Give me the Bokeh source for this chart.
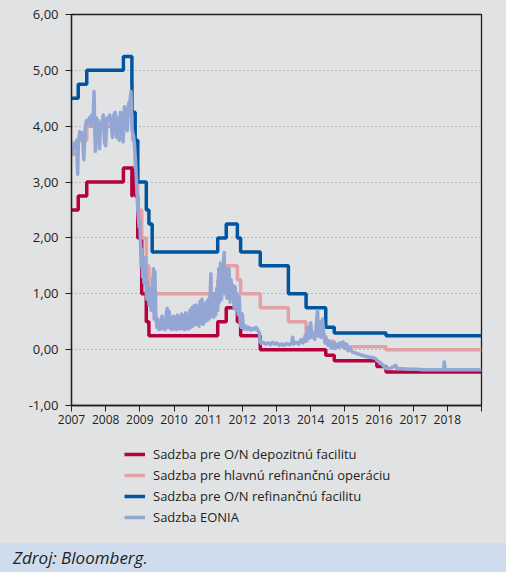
import pandas as pd
from bokeh.plotting import figure
from bokeh.models import (FixedTicker, CustomJSTickFormatter, Legend, LegendItem,
                          Range1d, Div)
from bokeh.layouts import column
from bokeh.embed import file_html
from bokeh.resources import INLINE

# ---------------- data ----------------
# ECB key rates: change dates and new levels (%)
deposit_dates = ["2007-01-01", "2007-03-14", "2007-06-13", "2008-07-09", "2008-10-08",
                 "2008-10-09", "2008-11-12", "2008-12-10", "2009-01-21", "2009-03-11",
                 "2009-04-08", "2011-04-13", "2011-07-13", "2011-11-09", "2011-12-14",
                 "2012-07-11", "2014-06-11", "2014-09-10", "2015-12-09", "2016-03-16",
                 "2019-01-01"]
deposit_vals = [2.50, 2.75, 3.00, 3.25, 2.75, 3.25, 2.75, 2.00, 1.00, 0.50,
                0.25, 0.50, 0.75, 0.50, 0.25, 0.00, -0.10, -0.20, -0.30, -0.40,
                -0.40]

mro_dates = ["2007-01-01", "2007-03-14", "2007-06-13", "2008-07-09", "2008-10-15",
             "2008-11-12", "2008-12-10", "2009-01-21", "2009-03-11", "2009-04-08",
             "2009-05-13", "2011-04-13", "2011-07-13", "2011-11-09", "2011-12-14",
             "2012-07-11", "2013-05-08", "2013-11-13", "2014-06-11", "2014-09-10",
             "2016-03-16", "2019-01-01"]
mro_vals = [3.50, 3.75, 4.00, 4.25, 3.75, 3.25, 2.50, 2.00, 1.50, 1.25,
            1.00, 1.25, 1.50, 1.25, 1.00, 0.75, 0.50, 0.25, 0.15, 0.05,
            0.00, 0.00]

mlf_dates = ["2007-01-01", "2007-03-14", "2007-06-13", "2008-07-09", "2008-10-08",
             "2008-10-09", "2008-11-12", "2008-12-10", "2009-03-11", "2009-04-08",
             "2009-05-13", "2011-04-13", "2011-07-13", "2011-11-09", "2011-12-14",
             "2012-07-11", "2013-05-08", "2013-11-13", "2014-06-11", "2014-09-10",
             "2016-03-16", "2019-01-01"]
mlf_vals = [4.50, 4.75, 5.00, 5.25, 4.75, 4.25, 3.75, 3.00, 2.50, 2.25,
            1.75, 2.00, 2.25, 2.00, 1.75, 1.50, 1.00, 0.75, 0.40, 0.30,
            0.25, 0.25]

# EONIA, time in fractional years
eonia_t = [2007.00, 2007.03, 2007.07, 2007.11, 2007.15, 2007.18, 2007.20, 2007.24, 2007.28,
           2007.32, 2007.36, 2007.40, 2007.44, 2007.48, 2007.52, 2007.56, 2007.59, 2007.63,
           2007.66, 2007.68, 2007.70, 2007.73, 2007.76, 2007.79, 2007.82, 2007.85, 2007.89,
           2007.93, 2007.97, 2008.00, 2008.04, 2008.08, 2008.12, 2008.16, 2008.20, 2008.24,
           2008.28, 2008.32, 2008.36, 2008.40, 2008.43, 2008.47, 2008.51, 2008.55, 2008.59,
           2008.63, 2008.67, 2008.71, 2008.74, 2008.77, 2008.81, 2008.84, 2008.88, 2008.91,
           2008.94, 2008.98,
           2009.00, 2009.02, 2009.04, 2009.06, 2009.08, 2009.10, 2009.12, 2009.14, 2009.17,
           2009.19, 2009.21, 2009.24, 2009.27, 2009.30, 2009.33, 2009.36, 2009.40, 2009.42,
           2009.44, 2009.47,
           2009.50, 2009.53, 2009.56, 2009.59, 2009.62, 2009.65, 2009.68, 2009.71, 2009.74,
           2009.77, 2009.80, 2009.83, 2009.86, 2009.89, 2009.92, 2009.95, 2009.98, 2010.01,
           2010.04, 2010.07, 2010.10, 2010.13, 2010.16, 2010.19, 2010.22, 2010.25, 2010.28,
           2010.31, 2010.34, 2010.37, 2010.40, 2010.43, 2010.46, 2010.49, 2010.52, 2010.55,
           2010.58, 2010.61, 2010.64, 2010.67, 2010.70, 2010.73, 2010.76, 2010.79, 2010.82,
           2010.85, 2010.88, 2010.91, 2010.94, 2010.97, 2011.00, 2011.03, 2011.06, 2011.08,
           2011.10, 2011.13, 2011.16, 2011.19, 2011.22, 2011.25, 2011.28, 2011.31, 2011.33,
           2011.36, 2011.39, 2011.42, 2011.45, 2011.47, 2011.49, 2011.52, 2011.55, 2011.58,
           2011.61, 2011.64, 2011.67, 2011.70, 2011.73, 2011.76, 2011.79, 2011.82, 2011.85,
           2011.88, 2011.91, 2011.94, 2011.97, 2012.00, 2012.03, 2012.06, 2012.10, 2012.15,
           2012.20, 2012.25, 2012.30, 2012.35, 2012.40, 2012.45, 2012.50, 2012.52, 2012.56,
           2012.62, 2012.68, 2012.75, 2012.82, 2012.88, 2012.95, 2013.00, 2013.08, 2013.15,
           2013.22, 2013.30, 2013.38, 2013.45, 2013.47, 2013.50, 2013.58, 2013.65, 2013.72,
           2013.78, 2013.84, 2013.88, 2013.92, 2013.95, 2014.00, 2014.04, 2014.08, 2014.12,
           2014.16, 2014.20, 2014.23, 2014.27, 2014.30, 2014.35, 2014.38, 2014.42, 2014.46,
           2014.50, 2014.55, 2014.60, 2014.65, 2014.70, 2014.75, 2014.80, 2014.85, 2014.90,
           2014.95, 2015.00, 2015.05, 2015.10, 2015.15, 2015.22, 2015.30, 2015.40, 2015.50,
           2015.60, 2015.70, 2015.80, 2015.90, 2015.95, 2016.05, 2016.15, 2016.22, 2016.35,
           2016.49, 2016.52, 2016.70, 2016.90, 2017.10, 2017.30, 2017.50, 2017.70, 2017.89,
           2017.91, 2017.93, 2018.20, 2018.50, 2018.80, 2019.00]
eonia_v = [3.62, 3.50, 3.70, 3.60, 3.75, 3.14, 3.70, 3.90, 3.80,
           3.88, 3.40, 3.95, 4.10, 4.05, 4.15, 4.00, 4.20, 4.10,
           4.62, 3.90, 3.55, 4.15, 3.95, 4.10, 3.60, 4.05, 3.95,
           4.20, 3.70, 3.65, 4.15, 4.10, 4.20, 4.05, 3.80, 4.20,
           4.25, 3.80, 4.15, 3.75, 4.25, 4.00, 3.72, 4.35, 4.30,
           3.92, 4.40, 4.45, 4.62, 3.95, 3.85, 3.70, 3.30, 2.90,
           2.50, 2.20,
           2.30, 1.90, 1.50, 1.80, 1.30, 1.55, 1.20, 1.40, 1.65,
           1.00, 0.90, 1.20, 0.80, 1.10, 0.70, 0.90, 1.45, 0.55,
           1.40, 0.60,
           0.40, 0.55, 0.36, 0.50, 0.37, 0.60, 0.38, 0.52, 0.36,
           0.62, 0.74, 0.40, 0.68, 0.38, 0.55, 0.36, 0.60, 0.38,
           0.58, 0.36, 0.62, 0.38, 0.57, 0.37, 0.64, 0.38, 0.60,
           0.36, 0.66, 0.38, 0.62, 0.37, 0.70, 0.40, 0.75, 0.42,
           0.78, 0.45, 0.80, 0.45, 0.72, 0.42, 0.86, 0.48, 0.90,
           0.45, 0.80, 0.50, 0.85, 0.52, 0.90, 0.55, 1.00, 1.36,
           0.60, 0.95, 0.58, 1.00, 0.62, 1.10, 0.70, 1.45, 0.85,
           1.55, 0.90, 1.40, 1.60, 1.74, 1.00, 1.42, 0.92, 1.30,
           1.45, 0.85, 1.25, 0.95, 1.15, 0.75, 1.12, 0.70, 1.00,
           0.62, 0.95, 0.45, 0.40, 0.64, 0.40, 0.37, 0.42, 0.36,
           0.40, 0.35, 0.38, 0.36, 0.40, 0.35, 0.30, 0.15, 0.11,
           0.13, 0.10, 0.12, 0.09, 0.13, 0.10, 0.12, 0.08, 0.10,
           0.08, 0.11, 0.09, 0.12, 0.22, 0.10, 0.13, 0.10, 0.18,
           0.12, 0.25, 0.15, 0.40, 0.20, 0.48, 0.22, 0.30, 0.18,
           0.40, 0.70, 0.25, 0.50, 0.22, 0.55, 0.30, 0.12, 0.20,
           0.08, 0.15, 0.03, 0.12, 0.02, 0.10, 0.04, 0.12, 0.06,
           0.14, 0.02, 0.10, -0.02, 0.03, -0.04, -0.06, -0.08, -0.10,
           -0.12, -0.13, -0.14, -0.16, -0.20, -0.24, -0.30, -0.34, -0.33,
           -0.28, -0.34, -0.34, -0.35, -0.35, -0.36, -0.36, -0.36, -0.36,
           -0.22, -0.36, -0.36, -0.36, -0.36, -0.36]

x_years = list(range(2007, 2020))
y_ticks = [-1, 0, 1, 2, 3, 4, 5, 6]
grid_ticks = [0, 1, 2, 3, 4, 5]

labels = ["Sadzba pre O/N depozitnú facilitu",
          "Sadzba pre hlavnú refinančnú operáciu",
          "Sadzba pre O/N refinančnú facilitu",
          "Sadzba EONIA"]
colors = ["#b4023f", "#e2a1a5", "#0055a0", "#94a6d4"]


def frac_year(d):
    ts = pd.Timestamp(d)
    start = pd.Timestamp(year=ts.year, month=1, day=1)
    end = pd.Timestamp(year=ts.year + 1, month=1, day=1)
    return ts.year + (ts - start) / (end - start)


BG = "#e1e2e4"
FONT = "Open Sans"
LW = 3.5

# ---------------- main chart ----------------
p = figure(width=506, height=432, output_backend="svg", toolbar_location=None,
           x_range=Range1d(2007, 2019), y_range=Range1d(-1, 6))
p.min_border_left = 71
p.min_border_right = 25
p.min_border_top = 14
p.min_border_bottom = 27
p.background_fill_color = BG
p.border_fill_color = BG
p.outline_line_color = "#231f20"
p.outline_line_width = 1.3

p.step([frac_year(d) for d in deposit_dates], deposit_vals, mode="after",
       line_color=colors[0], line_width=LW)
p.step([frac_year(d) for d in mro_dates], mro_vals, mode="after",
       line_color=colors[1], line_width=LW)
p.step([frac_year(d) for d in mlf_dates], mlf_vals, mode="after",
       line_color=colors[2], line_width=LW)
p.line(eonia_t, eonia_v, line_color=colors[3], line_width=LW, line_join="round")

p.yaxis.ticker = FixedTicker(ticks=y_ticks)
p.yaxis.formatter = CustomJSTickFormatter(code="return tick.toFixed(2).replace('.', ',');")
p.xaxis.ticker = FixedTicker(ticks=x_years)
p.xaxis.formatter = CustomJSTickFormatter(code="return tick < 2019 ? tick.toFixed(0) : '';")
for ax in (p.xaxis, p.yaxis):
    ax.axis_line_color = "#231f20"
    ax.axis_line_width = 1.3
    ax.major_tick_line_color = "#231f20"
    ax.major_tick_line_width = 1
    ax.major_tick_in = 0
    ax.minor_tick_line_color = None
    ax.major_label_text_color = "#231f20"
    ax.major_label_text_font = FONT
p.yaxis.major_tick_out = 6
p.yaxis.major_label_standoff = 7
p.yaxis.major_label_text_font_size = "13px"
p.xaxis.major_tick_out = 6
p.xaxis.major_label_standoff = 3
p.xaxis.major_label_text_font_size = "12px"

p.xgrid.grid_line_color = None
p.ygrid.ticker = FixedTicker(ticks=grid_ticks)
p.ygrid.grid_line_color = "#8f9092"
p.ygrid.grid_line_dash = "1 3"
p.ygrid.grid_line_width = 1

# ---------------- legend panel ----------------
lg = figure(width=506, height=111, output_backend="svg", toolbar_location=None,
            x_range=Range1d(0, 1), y_range=Range1d(0, 1),
            x_axis_location=None, y_axis_location=None)
lg.min_border_left = 71
lg.min_border_right = 25
lg.min_border_top = 0
lg.min_border_bottom = 0
lg.background_fill_color = BG
lg.border_fill_color = BG
lg.outline_line_color = None
lg.grid.visible = False
# legend proxies: lines placed outside the visible range of this panel
lg_renderers = [lg.line([-2, -1], [-2, -1], line_color=c, line_width=LW) for c in colors]

legend = Legend(items=[LegendItem(label=l, renderers=[r]) for l, r in zip(labels, lg_renderers)],
                location=(53, 17), orientation="vertical")
legend.background_fill_alpha = 0
legend.border_line_color = None
legend.padding = 0
legend.margin = 0
legend.spacing = 3
legend.glyph_width = 21
legend.glyph_height = 18
legend.label_height = 18
legend.label_standoff = 8
legend.label_text_font = FONT
legend.label_text_font_size = "13px"
legend.label_text_color = "#231f20"
lg.add_layout(legend, "center")

footer = Div(text=("<div style=\"width:506px;height:29px;box-sizing:border-box;"
                   "background:#cfdced;padding:5px 0 0 13px;font-family:'Open Sans';"
                   "font-style:italic;font-size:17px;line-height:19px;color:#231f20;\">"
                   "Zdroj: Bloomberg.</div>"),
             width=506, height=29, margin=0)

layout = column(p, lg, footer, spacing=0, styles={"background-color": BG})
open("out.html", "w").write(file_html(layout, INLINE))
